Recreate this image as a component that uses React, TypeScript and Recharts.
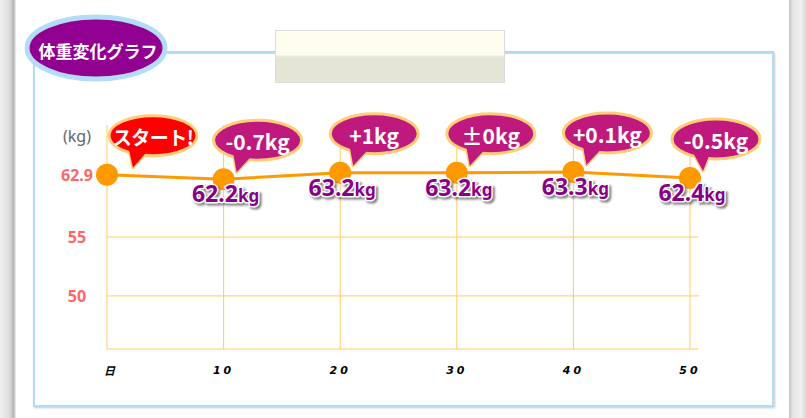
import React from 'react';
import { LineChart, Line, XAxis, YAxis, CartesianGrid, LabelList, Label } from 'recharts';

// day of the diet, weight (kg) and the change shown in each speech bubble
const days = [0, 10, 20, 30, 40, 50];
const weights = [62.9, 62.2, 63.2, 63.2, 63.3, 62.4];
const changes = ['スタート!', '-0.7kg', '+1kg', '±0kg', '+0.1kg', '-0.5kg'];
const weightTicks = [50, 55, 62.9];
const gridWeights = [50, 55];

const data = days.map((day, i) => ({
  day,
  weight: weights[i],
  change: changes[i],
  shown: i > 0 ? weights[i] : null,
}));

// the original graph uses a squeezed, non-linear weight axis: piecewise linear scale
const AXIS_KG = [45.5, 50, 55, 62.2, 63.3, 66];
const AXIS_T = [0, 0.237, 0.5, 0.758, 0.79, 1];

function makeScale(dom: number[] = [45.5, 66], rng: number[] = [0, 1]): any {
  let d = dom;
  let r = rng;
  const toT = (v: number) => {
    let i = 0;
    while (i < AXIS_KG.length - 2 && v > AXIS_KG[i + 1]) i++;
    const k = (v - AXIS_KG[i]) / (AXIS_KG[i + 1] - AXIS_KG[i]);
    return AXIS_T[i] + k * (AXIS_T[i + 1] - AXIS_T[i]);
  };
  const s: any = (v: number) => r[0] + toT(Number(v)) * (r[1] - r[0]);
  s.domain = (nd?: number[]) => {
    if (nd === undefined) return d;
    d = nd;
    return s;
  };
  s.range = (nr?: number[]) => {
    if (nr === undefined) return r;
    r = nr;
    return s;
  };
  s.copy = () => makeScale(d, r);
  s.ticks = () => weightTicks;
  s.invert = (p: number) => p;
  return s;
}

const JP = '"Noto Sans CJK JP", "Noto Sans", sans-serif';
const BORDER = '#FFCC77';
const PURPLE = '#880088';

const Bubble = (props: any) => {
  const value = props.value;
  const x = Number(props.x ?? props.viewBox?.x);
  const y = Number(props.y ?? props.viewBox?.y);
  if (!value || isNaN(x)) return null;
  const start = value === changes[0];
  const cx = Math.min(x + (start ? 46 : 34), 716);
  const cy = y - 39;
  const fill = start ? '#FF0000' : '#BF197E';
  const tipX = x + (start ? 26 : 13);
  const tail = `M${cx - 25},${cy + 10} L${tipX},${y - 7} L${cx - 7},${cy + 17} Z`;
  return (
    <g>
      <path d={tail} fill={fill} stroke={BORDER} strokeWidth={3} strokeLinejoin="round" />
      <ellipse cx={cx} cy={cy} rx={44} ry={20} fill={fill} stroke={BORDER} strokeWidth={3} />
      <path d={tail} fill={fill} />
      <text
        x={cx}
        y={cy + 1}
        textAnchor="middle"
        dominantBaseline="central"
        fill="#fff"
        fontFamily={JP}
        fontWeight="bold"
        fontSize={start ? 19 : 21}
        letterSpacing={start ? -0.5 : 0}
      >
        {value}
      </text>
    </g>
  );
};

const KgLabel = (props: any) => {
  const value = props.value;
  const x = Number(props.x ?? props.viewBox?.x);
  const y = Number(props.y ?? props.viewBox?.y);
  if (value == null || isNaN(x)) return null;
  const id = `shadow${Math.round(x)}`;
  const body = (
    <>
      <tspan fontSize={23}>{Number(value).toFixed(1)}</tspan>
      <tspan fontSize={17}>kg</tspan>
    </>
  );
  return (
    <g fontFamily='"Noto Sans", sans-serif' fontWeight="bold">
      <defs>
        <filter id={id} x="-20%" y="-40%" width="140%" height="180%">
          <feGaussianBlur stdDeviation={1.2} />
        </filter>
      </defs>
      <text x={x + 4} y={y + 25} textAnchor="middle" fill="#555" stroke="#555" strokeWidth={3} opacity={0.75} filter={`url(#${id})`}>
        {body}
      </text>
      <text x={x + 2} y={y + 23} textAnchor="middle" fill={PURPLE} stroke="#fff" strokeWidth={3} paintOrder="stroke" strokeLinejoin="round">
        {body}
      </text>
    </g>
  );
};

const YTick = ({ y, payload }: any) => (
  <text x={77} y={y} textAnchor="middle" dominantBaseline="central" fill="#FF6666" fontSize={16} fontWeight="bold" fontFamily='"Noto Sans", sans-serif'>
    {payload.value}
  </text>
);

const XTick = ({ x, payload }: any) => (
  <text
    x={payload.value === 0 ? x + 4 : x}
    y={370}
    textAnchor="middle"
    dominantBaseline="central"
    fill="#000"
    fontSize={11}
    fontWeight="bold"
    fontStyle="italic"
    letterSpacing={3}
    fontFamily={payload.value === 0 ? JP : '"DejaVu Sans", sans-serif'}
  >
    {payload.value === 0 ? '日' : payload.value}
  </text>
);

const App = () => {
  return (
    <div style={{ position: 'absolute', left: 0, top: 0, width: 806, height: 418, background: '#fff', overflow: 'hidden' }}>
      <div style={{ position: 'absolute', left: 0, top: 0, width: 16, height: 418, background: 'linear-gradient(to right, #efefef, #dcdcdc 60%, #b4b4b4 85%, #f4f4f4)' }} />
      <div style={{ position: 'absolute', left: 789, top: 0, width: 17, height: 418, background: 'linear-gradient(to right, #c4c4c4, #e6e6e6 25%, #efefef 70%, #d8d8d8)' }} />
      <div style={{ position: 'absolute', left: 33, top: 52, width: 737, height: 351, border: '2px solid #B3DCF6', boxShadow: '1px 1px 2px #c8c8c8, 0 -1px 0 #d0d0d0' }} />
      <div style={{ position: 'absolute', left: 275, top: 30, width: 228, height: 51, border: '1px solid #dcdcdc', background: 'linear-gradient(to bottom, #FFFDEE 0%, #FFFDEE 47%, #E9EEE4 49%, #E5E5D6 53%, #E5E5D6 100%)' }} />
      <svg width={180} height={90} style={{ position: 'absolute', left: 0, top: 0 }}>
        <ellipse cx={96} cy={48} rx={69} ry={31} fill="#920092" stroke="#B3DCF6" strokeWidth={5} />
        <text x={98} y={50} textAnchor="middle" dominantBaseline="central" fill="#fff" fontSize={17} fontWeight="bold" fontFamily={JP}>
          体重変化グラフ
        </text>
      </svg>
      <div style={{ position: 'absolute', left: 0, top: 0 }}>
        <LineChart width={806} height={418} data={data} margin={{ top: 125, right: 107, bottom: 39, left: 47 }}>
          <CartesianGrid stroke="#FFCC66" horizontalValues={gridWeights} verticalValues={days} />
          <XAxis
            dataKey="day"
            type="number"
            domain={[0, 50]}
            ticks={days}
            padding={{ left: 0, right: 9 }}
            height={30}
            axisLine={{ stroke: '#FFCC66' }}
            tickLine={false}
            tick={<XTick />}
            interval={0}
          />
          <YAxis
            type="number"
            domain={[45.5, 66]}
            scale={makeScale()}
            ticks={weightTicks}
            width={60}
            axisLine={false}
            tickLine={false}
            tick={<YTick />}
            interval={0}
          >
            <Label
              content={() => (
                <text x={77} y={136} textAnchor="middle" dominantBaseline="central" fill="#666" fontSize={16} fontFamily='"Noto Sans", sans-serif'>
                  (kg)
                </text>
              )}
            />
          </YAxis>
          <Line
            dataKey="weight"
            stroke="#FF9900"
            strokeWidth={3}
            dot={{ r: 11, fill: '#FF9900', stroke: 'none' }}
            activeDot={false}
            isAnimationActive={false}
          >
            <LabelList dataKey="shown" content={<KgLabel />} />
            <LabelList dataKey="change" content={<Bubble />} />
          </Line>
        </LineChart>
      </div>
    </div>
  );
};

export default App;
